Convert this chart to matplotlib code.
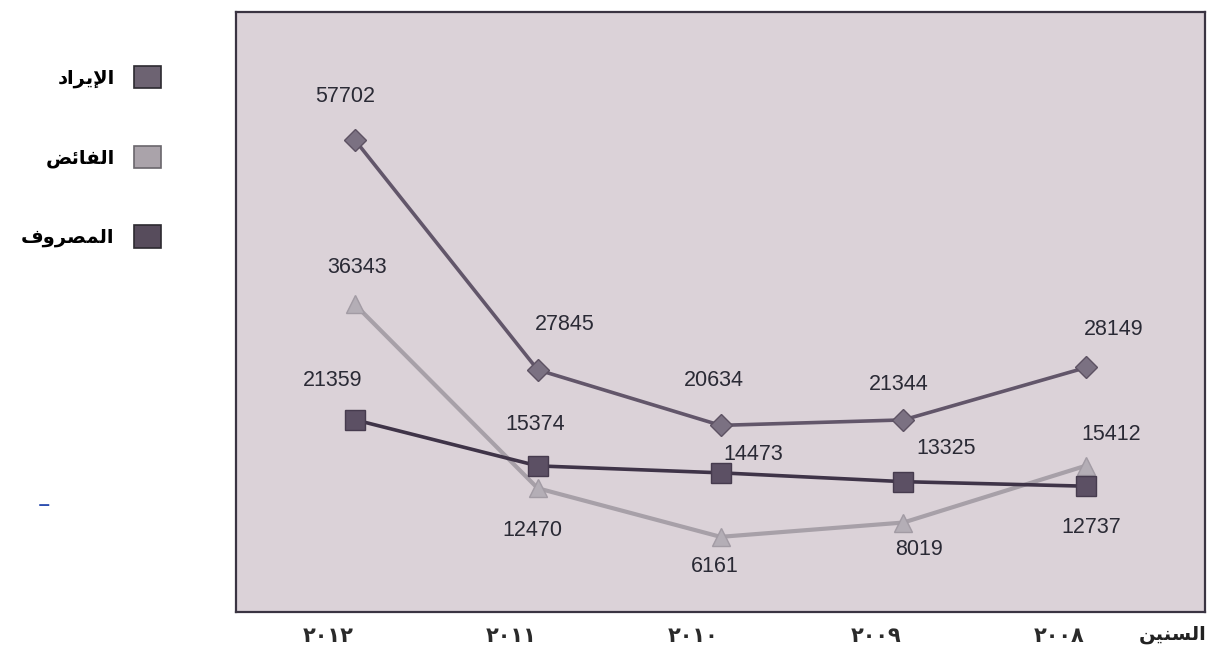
import matplotlib
matplotlib.use("Agg")
import matplotlib.pyplot as plt
from matplotlib.patches import Patch
from matplotlib.transforms import ScaledTranslation

# ---------------- data ----------------
years = ["٢٠١٢", "٢٠١١", "٢٠١٠", "٢٠٠٩", "٢٠٠٨"]
revenue = [57702, 27845, 20634, 21344, 28149]   # الإيراد
surplus = [36343, 12470, 6161, 8019, 15412]     # الفائض
expense = [21359, 15374, 14473, 13325, 12737]   # المصروف
series_names = ["الإيراد", "الفائض", "المصروف"]
axis_title = "السنين"

# ---------------- simple Arabic shaping (presentation forms) ----------------
FORMS = {  # iso, fin, ini, med
    'ا': ('\uFE8D', '\uFE8E', None, None),
    'إ': ('\uFE87', '\uFE88', None, None),
    'د': ('\uFEA9', '\uFEAA', None, None),
    'ر': ('\uFEAD', '\uFEAE', None, None),
    'و': ('\uFEED', '\uFEEE', None, None),
    'ل': ('\uFEDD', '\uFEDE', '\uFEDF', '\uFEE0'),
    'ي': ('\uFEF1', '\uFEF2', '\uFEF3', '\uFEF4'),
    'ف': ('\uFED1', '\uFED2', '\uFED3', '\uFED4'),
    'ئ': ('\uFE89', '\uFE8A', '\uFE8B', '\uFE8C'),
    'ض': ('\uFEBD', '\uFEBE', '\uFEBF', '\uFEC0'),
    'م': ('\uFEE1', '\uFEE2', '\uFEE3', '\uFEE4'),
    'ص': ('\uFEB9', '\uFEBA', '\uFEBB', '\uFEBC'),
    'س': ('\uFEB1', '\uFEB2', '\uFEB3', '\uFEB4'),
    'ن': ('\uFEE5', '\uFEE6', '\uFEE7', '\uFEE8'),
}
LAM_ALEF = {'ا': ('\uFEFB', '\uFEFC'), 'إ': ('\uFEF9', '\uFEFA')}


def joins_left(ch):
    f = FORMS.get(ch)
    return f is not None and f[2] is not None


def shape(word):
    out = []
    i = 0
    n = len(word)
    while i < n:
        ch = word[i]
        prev_join = i > 0 and joins_left(word[i - 1])
        if ch == 'ل' and i + 1 < n and word[i + 1] in LAM_ALEF:
            out.append(LAM_ALEF[word[i + 1]][1 if prev_join else 0])
            i += 2
            continue
        f = FORMS.get(ch)
        if f is None:
            out.append(ch)
            i += 1
            continue
        next_exists = i + 1 < n and word[i + 1] in FORMS
        can_left = f[2] is not None and next_exists
        if prev_join and can_left:
            out.append(f[3])
        elif prev_join:
            out.append(f[1])
        elif can_left:
            out.append(f[2])
        else:
            out.append(f[0])
        i += 1
    return ''.join(reversed(out))


# ---------------- figure ----------------
fig = plt.figure(figsize=(12.10, 6.52), dpi=100)
fig.patch.set_facecolor("white")
ax = fig.add_axes([0.195, 0.0613, 0.801, 0.9203])
ax.set_facecolor("#dbd2d8")

x = list(range(len(years)))
c_rev, c_sur, c_exp = "#62566a", "#a7a0a8", "#3f3448"
ax.plot(x, revenue, color=c_rev, lw=2.6, marker="D", ms=11,
        mfc="#7b7182", mec="#5d5263", zorder=3)
ax.plot(x, surplus, color=c_sur, lw=3.0, marker="^", ms=13,
        mfc="#b4aeb6", mec="#a29ba4", zorder=3)
ax.plot(x, expense, color=c_exp, lw=2.6, marker="s", ms=14,
        mfc="#5c5064", mec="#463b4e", zorder=4)

offsets_rev = [(-10, 43), (27, 45), (-7, 45), (-5, 35), (27, 38)]
offsets_sur = [(2, 37), (-5, -42), (-6, -30), (16, -27), (25, 31)]
offsets_exp = [(-22, 39), (-2, 41), (33, 18), (43, 33), (5, -41)]
for vals, offs in ((revenue, offsets_rev), (surplus, offsets_sur), (expense, offsets_exp)):
    for xi, v, (dx, dy) in zip(x, vals, offs):
        ax.annotate(f"{v}", (xi, v), xytext=(dx, dy), textcoords="offset pixels",
                    ha="center", va="center", fontsize=15.5,
                    family="Liberation Sans", color="#2a2a35", zorder=5)

ax.set_xlim(-0.65, 4.65)
ax.set_ylim(-3600, 74300)
ax.set_yticks([])
ax.set_xticks(x)
ax.set_xticklabels(years, fontsize=15, fontweight="bold", family="DejaVu Sans",
                   color="#2a2a2a")
ax.tick_params(axis="x", length=0, pad=10)
shift = ScaledTranslation(-27 / 100, 0, fig.dpi_scale_trans)
for lbl in ax.get_xticklabels():
    lbl.set_transform(lbl.get_transform() + shift)
for sp in ax.spines.values():
    sp.set_color("#3a3442")
    sp.set_linewidth(1.6)

fig.text(0.997, 0.027, shape(axis_title), ha="right", va="center",
         fontsize=14, fontweight="bold", family="DejaVu Sans", color="#222")
fig.text(0.036, 0.225, "–", ha="center", va="center", fontsize=18, color="#2d4fb0")

handles = [Patch(facecolor="#6d6372", edgecolor="#2c2a30", lw=1.2),
           Patch(facecolor="#aaa3aa", edgecolor="#6a666c", lw=1.2),
           Patch(facecolor="#574c5c", edgecolor="#2c2a30", lw=1.2)]
leg = fig.legend(handles, [shape(s) for s in series_names], loc="upper left",
                 bbox_to_anchor=(0.003, 0.926), markerfirst=False, frameon=False,
                 handlelength=1.4, handleheight=1.4, handletextpad=1.0,
                 labelspacing=2.95, prop={"family": "DejaVu Sans", "weight": "bold",
                                          "size": 14})
fig.savefig("out.png", dpi=100, facecolor="white")
